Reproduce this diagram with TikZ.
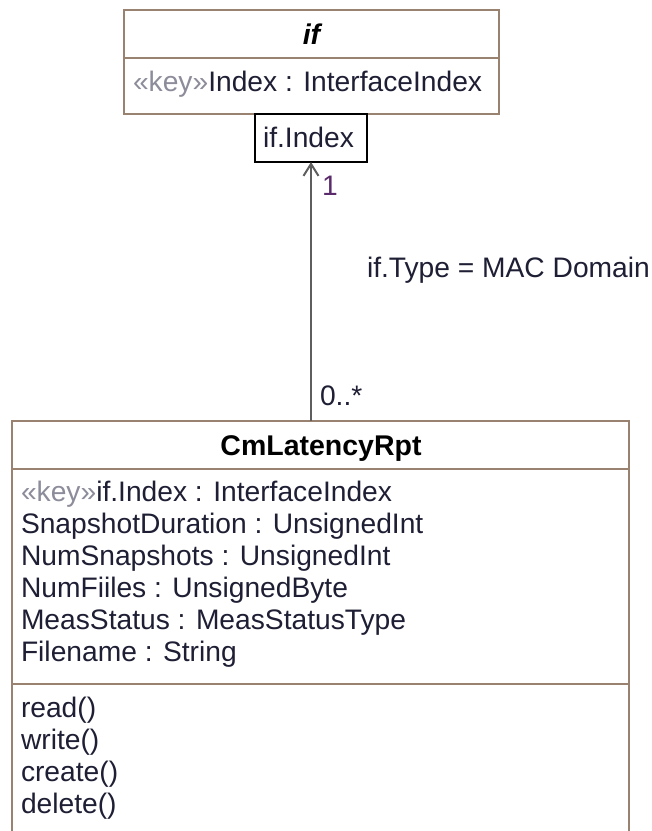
\documentclass[tikz,border=0pt]{standalone}
\usepackage{fontspec}
\setmainfont{Liberation Sans}
\usetikzlibrary{arrows.meta}
\definecolor{umlbrown}{HTML}{9A8270}
\definecolor{ink}{HTML}{1E1E34}
\definecolor{keygray}{HTML}{8C8C9A}
\definecolor{multpurple}{HTML}{5A2A6A}
\definecolor{linegray}{HTML}{5E5E5E}
\begin{document}
\begin{tikzpicture}[x=1pt,y=-1pt,
  every node/.style={inner sep=0pt, outer sep=0pt},
  classbox/.style={draw=umlbrown, line width=2.8pt, fill=white, rectangle},
  qualbox/.style={draw=black, line width=2.4pt, fill=white, rectangle},
  divider/.style={draw=umlbrown, line width=2.8pt},
  txt/.style={anchor=base west, font=\fontsize{28.2}{32}\selectfont, text=ink},
  ttl/.style={anchor=base, font=\fontsize{28.5}{32}\selectfont\bfseries, text=black},
  keyst/.style={text=keygray},
  mult/.style={anchor=base west, font=\fontsize{28.2}{32}\selectfont},
  assoc/.style={draw=linegray, line width=2.3pt, -{Straight Barb[length=12pt,width=15pt,line width=2pt]}}
]
\clip (0,0) rectangle (652,831);
\fill[white] (0,0) rectangle (652,831);

% bottom class
\node[classbox, minimum width=617pt, minimum height=479pt] (cls) at (320.5,660.5) {};
\draw[divider] (12,469) -- (629,469);
\draw[divider] (12,684) -- (629,684);
\node[ttl] (clsname) at (321,455) {CmLatencyRpt};
\node[txt] (a1) at (21,501) {\textcolor{keygray}{«key»}if.Index : InterfaceIndex};
\node[txt] (a2) at (21,533) {SnapshotDuration : UnsignedInt};
\node[txt] (a3) at (21,565) {NumSnapshots : UnsignedInt};
\node[txt] (a4) at (21,597) {NumFiiles : UnsignedByte};
\node[txt] (a5) at (21,629) {MeasStatus : MeasStatusType};
\node[txt] (a6) at (21,661) {Filename : String};
\node[txt] (m1) at (21,717) {read()};
\node[txt] (m2) at (21,749) {write()};
\node[txt] (m3) at (21,781) {create()};
\node[txt] (m4) at (21,813) {delete()};

% top class
\node[classbox, minimum width=375pt, minimum height=104pt] (ifcls) at (311.5,62) {};
\draw[divider] (124,58) -- (499,58);
\node[ttl] (ifname) at (311.5,44) {\itshape if};
\node[txt] (ifattr) at (133,91) {\textcolor{keygray}{«key»}Index : InterfaceIndex};

% qualifier
\node[qualbox, minimum width=112pt, minimum height=48pt] (qual) at (311,138) {};
\node[txt] (qualtext) at (263,147) {if.Index};

% association
\draw[assoc] (qual.south |- cls.north) -- (qual.south);
\node[mult, text=multpurple] (m1lab) at (322,195) {1};
\node[mult, text=ink] (m0lab) at (320,405) {0..*};
\node[txt] (cond) at (367,277) {if.Type = MAC Domain};
\end{tikzpicture}
\end{document}
